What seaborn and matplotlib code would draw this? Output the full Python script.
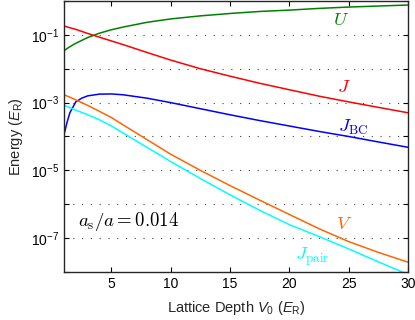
import numpy as np
import pandas as pd
import matplotlib
matplotlib.use("Agg")
import matplotlib.pyplot as plt
import matplotlib.ticker as mticker
import seaborn as sns

# Lattice depth grid (E_R)
V0 = [1, 1.5, 2, 3, 4, 5, 6, 8, 10, 12.5, 15, 17.5, 20, 22.5, 25, 27.5, 30]
V0_bc = [1, 1.25, 1.5, 2, 2.5, 3, 4, 5, 6, 8, 10, 12.5, 15, 17.5, 20, 22.5, 25, 27.5, 30]

# energies (E_R)
U = [0.0339, 0.0447, 0.0562, 0.0832, 0.112, 0.141, 0.170, 0.234, 0.295, 0.363,
     0.427, 0.490, 0.537, 0.603, 0.661, 0.708, 0.759]
J = [0.182, 0.162, 0.145, 0.110, 0.0851, 0.0661, 0.0513, 0.0302, 0.0180, 0.0100,
     6.03e-3, 3.72e-3, 2.40e-3, 1.55e-3, 1.05e-3, 7.24e-4, 5.01e-4]
J_bc = [1.10e-4, 2.5e-4, 5.0e-4, 1.05e-3, 1.35e-3, 1.58e-3, 1.78e-3, 1.80e-3, 1.70e-3,
        1.35e-3, 1.0e-3, 6.6e-4, 4.37e-4, 2.95e-4, 2.04e-4, 1.41e-4, 1.0e-4, 6.9e-5, 4.8e-5]
V = [1.70e-3, 1.45e-3, 1.20e-3, 8.3e-4, 5.5e-4, 3.63e-4, 2.19e-4, 8.1e-5, 3.0e-5, 1.0e-5,
     3.55e-6, 1.32e-6, 5.0e-7, 1.9e-7, 7.9e-8, 3.8e-8, 1.95e-8]
J_pair = [8.3e-4, 7.1e-4, 6.0e-4, 4.4e-4, 3.1e-4, 2.04e-4, 1.26e-4, 4.8e-5, 1.82e-5, 5.75e-6,
          1.9e-6, 6.6e-7, 2.5e-7, 1.12e-7, 4.8e-8, 2.0e-8, 8.5e-9]

sns.set_style("ticks", {"xtick.direction": "in", "ytick.direction": "in"})
plt.rcParams['font.family'] = ['Liberation Sans', 'DejaVu Sans']
plt.rcParams['mathtext.fontset'] = 'custom'
plt.rcParams['mathtext.rm'] = 'Liberation Sans'
plt.rcParams['mathtext.it'] = 'Liberation Sans:italic'
plt.rcParams['axes.linewidth'] = 1.0

fig = plt.figure(figsize=(4.15, 3.2), dpi=100)
ax = fig.add_axes([0.154, 0.15, 0.829, 0.847])

series = [(V0, U, "#008000"), (V0, J, "#ff0000"), (V0_bc, J_bc, "#0000ff"),
          (V0, V, "#ff6600"), (V0, J_pair, "#00ffff")]
for xs, ys, c in series:
    sns.lineplot(x=xs, y=ys, color=c, lw=1.1, ax=ax)

ax.set_yscale("log")
ax.set_xlim(1, 30)
ax.set_ylim(1e-8, 1)

ax.yaxis.set_major_locator(mticker.FixedLocator([10.0 ** k for k in range(-8, 1)]))
ax.yaxis.set_minor_locator(mticker.NullLocator())
ax.yaxis.set_major_formatter(mticker.FuncFormatter(
    lambda v, p: r"$10^{%d}$" % round(np.log10(v)) if round(np.log10(v)) % 2 else ""))
ax.set_xticks([5, 10, 15, 20, 25, 30])
ax.tick_params(which="both", direction="in", top=True, right=True, length=3.5,
               width=0.8, labelsize=10, colors="black")

for k in range(-7, 0):
    ax.axhline(10.0 ** k, color="#444444", lw=0.8, ls=(0, (1, 6.9)), zorder=0)

ax.set_xlabel(r"Lattice Depth $V_0$ ($E_\mathrm{R}$)", fontsize=10.5, labelpad=6)
ax.set_ylabel(r"Energy ($E_\mathrm{R}$)", fontsize=10.5)

lab = dict(fontsize=13.5, math_fontfamily="cm", ha="center", va="center")
ax.text(24.4, 10 ** -0.59, r"$U$", color="#008000", **lab)
ax.text(24.6, 10 ** -2.55, r"$J$", color="#ff0000", **lab)
ax.text(25.4, 10 ** -3.72, r"$J_{\mathrm{BC}}$", color="#0000ff", **lab)
ax.text(24.6, 10 ** -6.6, r"$V$", color="#ff6600", **lab)
ax.text(21.9, 10 ** -7.54, r"$J_{\mathrm{pair}}$", color="#00ffff", **lab)
ax.text(2.15, 10 ** -6.5, r"$a_{\mathrm{s}}/a = 0.014$", color="black", fontsize=13.5,
        math_fontfamily="cm", ha="left", va="center")

fig.savefig("out.png", dpi=100)
